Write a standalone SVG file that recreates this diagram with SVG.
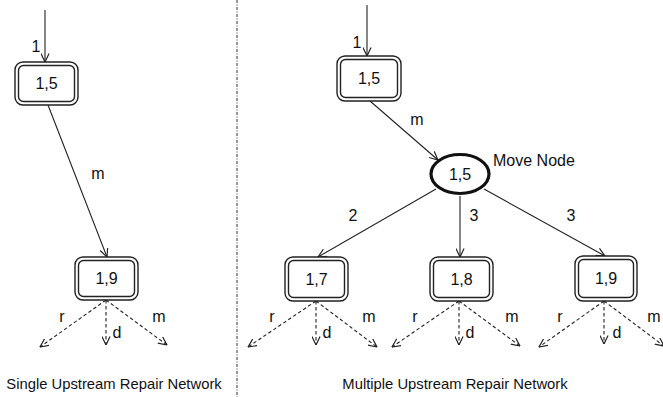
<svg xmlns="http://www.w3.org/2000/svg" width="663" height="397" viewBox="0 0 663 397">
<style>
text{font-family:"Liberation Sans",Arial,sans-serif;font-size:16px;fill:#111}
.c{text-anchor:middle}
.outer{fill:#fff;stroke:#222;stroke-width:1.4}
.inner{fill:none;stroke:#222;stroke-width:1.4}
.ln{stroke:#222;stroke-width:1.1;fill:none}
.da{stroke:#222;stroke-width:1.1;fill:none;stroke-dasharray:3.5,2.5}
.sep{stroke:#333;stroke-width:1;stroke-dasharray:3,1.5,1,1.5}
.cap{font-size:14.8px}
</style>
<defs>
<marker id="ah" viewBox="0 0 10 10" refX="9.5" refY="5" markerWidth="9" markerHeight="9" markerUnits="userSpaceOnUse" orient="auto">
<path d="M0,0.5 L9.5,5 L0,9.5" fill="none" stroke="#222" stroke-width="1.3"/>
</marker>
</defs>
<line class="sep" x1="237" y1="0" x2="237" y2="397"/>
<g id="connectors">
<line class="ln" x1="45" y1="10" x2="45" y2="62" marker-end="url(#ah)"/>
<line class="ln" x1="48" y1="105" x2="107" y2="257" marker-end="url(#ah)"/>
<line class="da" x1="106" y1="300" x2="40" y2="347" marker-end="url(#ah)"/>
<line class="da" x1="106" y1="300" x2="106" y2="345" marker-end="url(#ah)"/>
<line class="da" x1="106" y1="300" x2="167" y2="345" marker-end="url(#ah)"/>
<line class="ln" x1="367" y1="5" x2="367" y2="56" marker-end="url(#ah)"/>
<line class="ln" x1="370" y1="101" x2="438" y2="160" marker-end="url(#ah)"/>
<line class="ln" x1="436" y1="189" x2="318" y2="257" marker-end="url(#ah)"/>
<line class="ln" x1="460" y1="196" x2="460" y2="257" marker-end="url(#ah)"/>
<line class="ln" x1="484" y1="189" x2="605" y2="256" marker-end="url(#ah)"/>
<line class="da" x1="316" y1="301" x2="248" y2="347" marker-end="url(#ah)"/>
<line class="da" x1="316" y1="301" x2="316" y2="345" marker-end="url(#ah)"/>
<line class="da" x1="316" y1="301" x2="377" y2="347" marker-end="url(#ah)"/>
<line class="da" x1="459" y1="301" x2="392" y2="347" marker-end="url(#ah)"/>
<line class="da" x1="459" y1="301" x2="459" y2="345" marker-end="url(#ah)"/>
<line class="da" x1="459" y1="301" x2="520" y2="346" marker-end="url(#ah)"/>
<line class="da" x1="604" y1="301" x2="539" y2="347" marker-end="url(#ah)"/>
<line class="da" x1="604" y1="301" x2="604" y2="344" marker-end="url(#ah)"/>
<line class="da" x1="604" y1="301" x2="664" y2="346" marker-end="url(#ah)"/>
<circle cx="106" cy="300" r="1.3" fill="#222"/>
<circle cx="316" cy="301" r="1.3" fill="#222"/>
<circle cx="459" cy="301" r="1.3" fill="#222"/>
<circle cx="604" cy="301" r="1.3" fill="#222"/>
<text x="36" y="52" class="c">1</text>
<text x="98" y="179" class="c">m</text>
<text x="62" y="322" class="c">r</text>
<text x="117" y="338" class="c">d</text>
<text x="159" y="322" class="c">m</text>
<text x="357" y="48" class="c">1</text>
<text x="417" y="125" class="c">m</text>
<text x="353" y="221" class="c">2</text>
<text x="474" y="221" class="c">3</text>
<text x="571" y="221" class="c">3</text>
<text x="272" y="322" class="c">r</text>
<text x="327" y="338" class="c">d</text>
<text x="369" y="322" class="c">m</text>
<text x="415" y="322" class="c">r</text>
<text x="470" y="338" class="c">d</text>
<text x="512" y="322" class="c">m</text>
<text x="560" y="322" class="c">r</text>
<text x="617" y="338" class="c">d</text>
<text x="654" y="322" class="c">m</text>
</g>
<g id="nodeL15">
<rect class="outer" x="15" y="62" width="63" height="43" rx="8"/>
<rect class="inner" x="18.5" y="65.5" width="56" height="36" rx="5"/>
<text x="46.5" y="89" class="c">1,5</text>
</g>
<g id="nodeL19">
<rect class="outer" x="75" y="257" width="63" height="43" rx="8"/>
<rect class="inner" x="78.5" y="260.5" width="56" height="36" rx="5"/>
<text x="106.5" y="284" class="c">1,9</text>
</g>
<g id="nodeR15">
<rect class="outer" x="337" y="56" width="64" height="45" rx="8"/>
<rect class="inner" x="340.5" y="59.5" width="57" height="38" rx="5"/>
<text x="369" y="84" class="c">1,5</text>
</g>
<g id="moveNode">
<ellipse cx="460" cy="174" rx="29" ry="19.5" fill="#fff" stroke="#111" stroke-width="3.2"/>
<text x="460" y="180" class="c">1,5</text>
<text x="493" y="166">Move Node</text>
</g>
<g id="nodeR17">
<rect class="outer" x="285" y="257" width="63" height="44" rx="8"/>
<rect class="inner" x="288.5" y="260.5" width="56" height="37" rx="5"/>
<text x="316.5" y="285" class="c">1,7</text>
</g>
<g id="nodeR18">
<rect class="outer" x="430" y="257" width="63" height="44" rx="8"/>
<rect class="inner" x="433.5" y="260.5" width="56" height="37" rx="5"/>
<text x="461.5" y="285" class="c">1,8</text>
</g>
<g id="nodeR19">
<rect class="outer" x="575" y="256" width="62" height="45" rx="8"/>
<rect class="inner" x="578.5" y="259.5" width="55" height="38" rx="5"/>
<text x="606" y="284" class="c">1,9</text>
</g>
<g id="captions">
<text x="114" y="389" class="c cap">Single Upstream Repair Network</text>
<text x="455" y="389" class="c cap">Multiple Upstream Repair Network</text>
</g>
</svg>
